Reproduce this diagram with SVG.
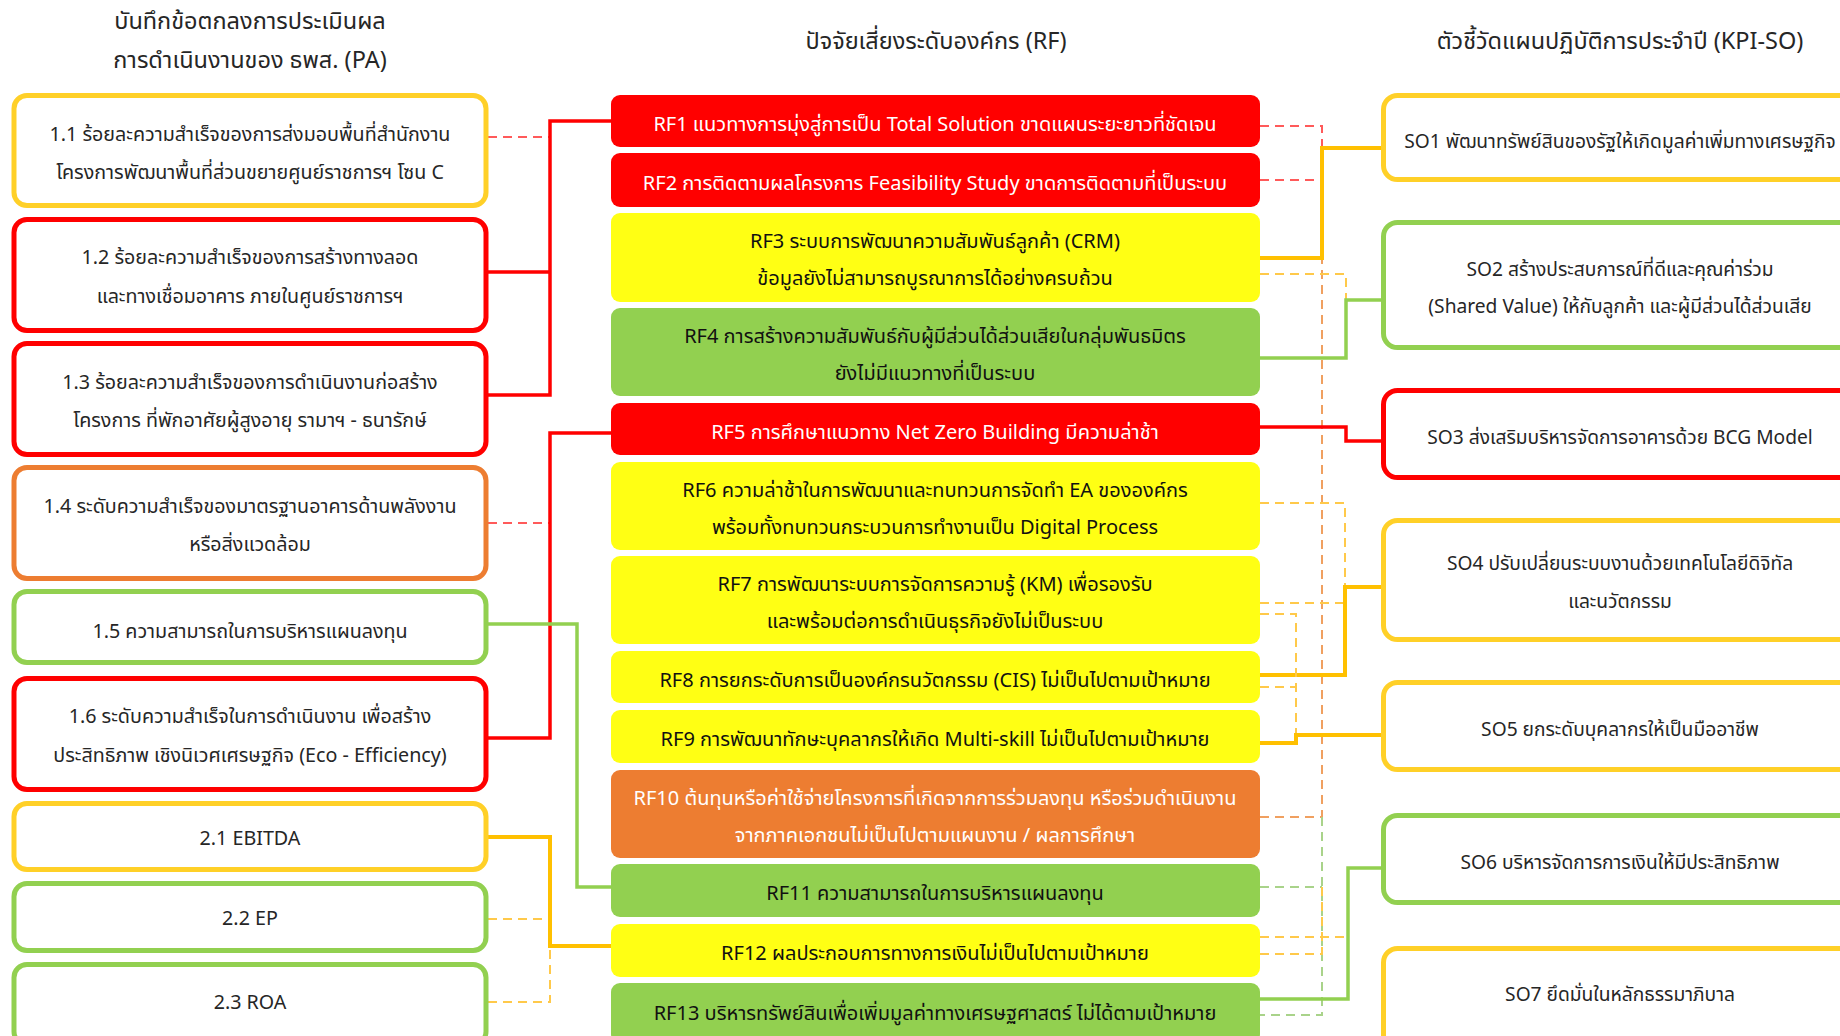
<svg xmlns="http://www.w3.org/2000/svg" width="1840" height="1036" viewBox="0 0 1840 1036">
<style>
text{font-family:"Noto Sans Thai","Noto Sans","Tahoma",sans-serif;font-size:20px;text-anchor:middle}
.hd{font-size:23.5px;fill:#262626}
.lb{fill:#fff;stroke-width:5}
.lt{fill:#262626;font-size:19.7px}
.st{fill:#262626;font-size:19.2px}
.rf{stroke:none}
.wt{fill:#fff}
.bt{fill:#111}
.cn{fill:none;stroke-linejoin:miter}
.sr{stroke:#FF0000;stroke-width:3.5}
.sg{stroke:#FFC000;stroke-width:4}
.sn{stroke:#92D050;stroke-width:3.5}
.dr{stroke:#FF5A5A;stroke-width:2;stroke-dasharray:9 6}
.dg{stroke:#FFC94A;stroke-width:2;stroke-dasharray:9 6}
.dn{stroke:#A9D38A;stroke-width:2;stroke-dasharray:9 6}
.do{stroke:#F0A060;stroke-width:2;stroke-dasharray:9 6}
</style>
<rect width="1840" height="1036" fill="#fff"/>
<g id="headers">
<text class="hd" x="250" y="29">บันทึกข้อตกลงการประเมินผล</text>
<text class="hd" x="250" y="68">การดำเนินงานของ ธพส. (PA)</text>
<text class="hd" x="936" y="49">ปัจจัยเสี่ยงระดับองค์กร (RF)</text>
<text class="hd" x="1620" y="49">ตัวชี้วัดแผนปฏิบัติการประจำปี (KPI-SO)</text>
</g>
<g id="connectors">
<path class="cn dr" d="M488,137H550M488,523H550"/>
<path class="cn sr" d="M611,121H550V395H488M488,272H550"/>
<path class="cn sr" d="M611,433H550V738H488"/>
<path class="cn sn" d="M488,624H577V887H611"/>
<path class="cn dg" d="M488,919H550M488,1002H550V946"/>
<path class="cn sg" d="M488,837H550V946H611"/>
<path class="cn dr" d="M1260,126H1322V148H1383M1260,180H1322"/>
<path class="cn do" d="M1260,817H1322V258"/>
<path class="cn sg" d="M1260,258H1322V148H1383"/>
<path class="cn dg" d="M1260,274H1346V300"/>
<path class="cn sn" d="M1260,358H1346V300H1383"/>
<path class="cn sr" d="M1260,427H1346V441H1383"/>
<path class="cn dg" d="M1260,503H1345V587M1260,603H1345"/>
<path class="cn sg" d="M1260,675H1345V587H1383"/>
<path class="cn dg" d="M1260,614H1296V735M1260,687H1296"/>
<path class="cn sg" d="M1260,743H1296V735H1383"/>
<path class="cn dn" d="M1322,817V1015H1260M1260,887H1322"/>
<path class="cn dg" d="M1260,954H1322V887M1260,937H1348"/>
<path class="cn sn" d="M1260,999H1348V868H1383"/>
</g>
<g id="pa-1-1"><rect class="lb" x="14" y="95.5" width="472" height="110" rx="13" stroke="#FFD028"/><text class="lt" x="250" y="141">1.1 ร้อยละความสำเร็จของการส่งมอบพื้นที่สำนักงาน</text><text class="lt" x="250" y="179">โครงการพัฒนาพื้นที่ส่วนขยายศูนย์ราชการฯ โซน C</text></g>
<g id="pa-1-2"><rect class="lb" x="14" y="219.5" width="472" height="111" rx="13" stroke="#FF0000"/><text class="lt" x="250" y="264">1.2 ร้อยละความสำเร็จของการสร้างทางลอด</text><text class="lt" x="250" y="303">และทางเชื่อมอาคาร ภายในศูนย์ราชการฯ</text></g>
<g id="pa-1-3"><rect class="lb" x="14" y="343.5" width="472" height="111" rx="13" stroke="#FF0000"/><text class="lt" x="250" y="389">1.3 ร้อยละความสำเร็จของการดำเนินงานก่อสร้าง</text><text class="lt" x="250" y="427">โครงการ ที่พักอาศัยผู้สูงอายุ รามาฯ - ธนารักษ์</text></g>
<g id="pa-1-4"><rect class="lb" x="14" y="467.5" width="472" height="111" rx="13" stroke="#ED7D31"/><text class="lt" x="250" y="513">1.4 ระดับความสำเร็จของมาตรฐานอาคารด้านพลังงาน</text><text class="lt" x="250" y="551">หรือสิ่งแวดล้อม</text></g>
<g id="pa-1-5"><rect class="lb" x="14" y="591.5" width="472" height="71" rx="13" stroke="#92D050"/><text class="lt" x="250" y="638">1.5 ความสามารถในการบริหารแผนลงทุน</text></g>
<g id="pa-1-6"><rect class="lb" x="14" y="678.5" width="472" height="111" rx="13" stroke="#FF0000"/><text class="lt" x="250" y="723">1.6 ระดับความสำเร็จในการดำเนินงาน เพื่อสร้าง</text><text class="lt" x="250" y="762">ประสิทธิภาพ เชิงนิเวศเศรษฐกิจ (Eco - Efficiency)</text></g>
<g id="pa-2-1"><rect class="lb" x="14" y="803.5" width="472" height="66" rx="13" stroke="#FFD028"/><text class="lt" x="250" y="845">2.1 EBITDA</text></g>
<g id="pa-2-2"><rect class="lb" x="14" y="883.5" width="472" height="67" rx="13" stroke="#92D050"/><text class="lt" x="250" y="925">2.2 EP</text></g>
<g id="pa-2-3"><rect class="lb" x="14" y="964.5" width="472" height="80" rx="13" stroke="#92D050"/><text class="lt" x="250" y="1009">2.3 ROA</text></g>
<g id="rf1"><rect class="rf" x="611" y="95" width="649" height="52" rx="9" fill="#FF0000"/><text class="wt" x="935" y="131">RF1 แนวทางการมุ่งสู่การเป็น Total Solution ขาดแผนระยะยาวที่ชัดเจน</text></g>
<g id="rf2"><rect class="rf" x="611" y="153" width="649" height="54" rx="9" fill="#FF0000"/><text class="wt" x="935" y="190">RF2 การติดตามผลโครงการ Feasibility Study ขาดการติดตามที่เป็นระบบ</text></g>
<g id="rf3"><rect class="rf" x="611" y="213" width="649" height="89" rx="9" fill="#FFFF14"/><text class="bt" x="935" y="248">RF3 ระบบการพัฒนาความสัมพันธ์ลูกค้า (CRM)</text><text class="bt" x="935" y="285">ข้อมูลยังไม่สามารถบูรณาการได้อย่างครบถ้วน</text></g>
<g id="rf4"><rect class="rf" x="611" y="308" width="649" height="88" rx="9" fill="#92D050"/><text class="bt" x="935" y="343">RF4 การสร้างความสัมพันธ์กับผู้มีส่วนได้ส่วนเสียในกลุ่มพันธมิตร</text><text class="bt" x="935" y="380">ยังไม่มีแนวทางที่เป็นระบบ</text></g>
<g id="rf5"><rect class="rf" x="611" y="403" width="649" height="52" rx="9" fill="#FF0000"/><text class="wt" x="935" y="439">RF5 การศึกษาแนวทาง Net Zero Building มีความล่าช้า</text></g>
<g id="rf6"><rect class="rf" x="611" y="462" width="649" height="88" rx="9" fill="#FFFF14"/><text class="bt" x="935" y="497">RF6 ความล่าช้าในการพัฒนาและทบทวนการจัดทำ EA ขององค์กร</text><text class="bt" x="935" y="534">พร้อมทั้งทบทวนกระบวนการทำงานเป็น Digital Process</text></g>
<g id="rf7"><rect class="rf" x="611" y="556" width="649" height="88" rx="9" fill="#FFFF14"/><text class="bt" x="935" y="591">RF7 การพัฒนาระบบการจัดการความรู้ (KM) เพื่อรองรับ</text><text class="bt" x="935" y="628">และพร้อมต่อการดำเนินธุรกิจยังไม่เป็นระบบ</text></g>
<g id="rf8"><rect class="rf" x="611" y="651" width="649" height="52" rx="9" fill="#FFFF14"/><text class="bt" x="935" y="687">RF8 การยกระดับการเป็นองค์กรนวัตกรรม (CIS) ไม่เป็นไปตามเป้าหมาย</text></g>
<g id="rf9"><rect class="rf" x="611" y="710" width="649" height="53" rx="9" fill="#FFFF14"/><text class="bt" x="935" y="746">RF9 การพัฒนาทักษะบุคลากรให้เกิด Multi-skill ไม่เป็นไปตามเป้าหมาย</text></g>
<g id="rf10"><rect class="rf" x="611" y="770" width="649" height="88" rx="9" fill="#ED7D31"/><text class="wt" x="935" y="805">RF10 ต้นทุนหรือค่าใช้จ่ายโครงการที่เกิดจากการร่วมลงทุน หรือร่วมดำเนินงาน</text><text class="wt" x="935" y="842">จากภาคเอกชนไม่เป็นไปตามแผนงาน / ผลการศึกษา</text></g>
<g id="rf11"><rect class="rf" x="611" y="864" width="649" height="53" rx="9" fill="#92D050"/><text class="bt" x="935" y="900">RF11 ความสามารถในการบริหารแผนลงทุน</text></g>
<g id="rf12"><rect class="rf" x="611" y="924" width="649" height="53" rx="9" fill="#FFFF14"/><text class="bt" x="935" y="960">RF12 ผลประกอบการทางการเงินไม่เป็นไปตามเป้าหมาย</text></g>
<g id="rf13"><rect class="rf" x="611" y="983" width="649" height="60" rx="9" fill="#92D050"/><text class="bt" x="935" y="1020">RF13 บริหารทรัพย์สินเพื่อเพิ่มมูลค่าทางเศรษฐศาสตร์ ไม่ได้ตามเป้าหมาย</text></g>
<g id="so1"><rect class="lb" x="1383.5" y="95.5" width="480" height="84" rx="14" stroke="#FFD028"/><text class="st" x="1620" y="148">SO1 พัฒนาทรัพย์สินของรัฐให้เกิดมูลค่าเพิ่มทางเศรษฐกิจ</text></g>
<g id="so2"><rect class="lb" x="1383.5" y="222.5" width="480" height="125" rx="14" stroke="#92D050"/><text class="st" x="1620" y="276">SO2 สร้างประสบการณ์ที่ดีและคุณค่าร่วม</text><text class="st" x="1620" y="313">(Shared Value) ให้กับลูกค้า และผู้มีส่วนได้ส่วนเสีย</text></g>
<g id="so3"><rect class="lb" x="1383.5" y="390.5" width="480" height="87" rx="14" stroke="#FF0000"/><text class="st" x="1620" y="444">SO3 ส่งเสริมบริหารจัดการอาคารด้วย BCG Model</text></g>
<g id="so4"><rect class="lb" x="1383.5" y="520.5" width="480" height="119" rx="14" stroke="#FFD028"/><text class="st" x="1620" y="570">SO4 ปรับเปลี่ยนระบบงานด้วยเทคโนโลยีดิจิทัล</text><text class="st" x="1620" y="608">และนวัตกรรม</text></g>
<g id="so5"><rect class="lb" x="1383.5" y="682.5" width="480" height="87" rx="14" stroke="#FFD028"/><text class="st" x="1620" y="736">SO5 ยกระดับบุคลากรให้เป็นมืออาชีพ</text></g>
<g id="so6"><rect class="lb" x="1383.5" y="815.5" width="480" height="87" rx="14" stroke="#92D050"/><text class="st" x="1620" y="869">SO6 บริหารจัดการการเงินให้มีประสิทธิภาพ</text></g>
<g id="so7"><rect class="lb" x="1383.5" y="948.5" width="480" height="100" rx="14" stroke="#FFD028"/><text class="st" x="1620" y="1001">SO7 ยึดมั่นในหลักธรรมาภิบาล</text></g>
</svg>
